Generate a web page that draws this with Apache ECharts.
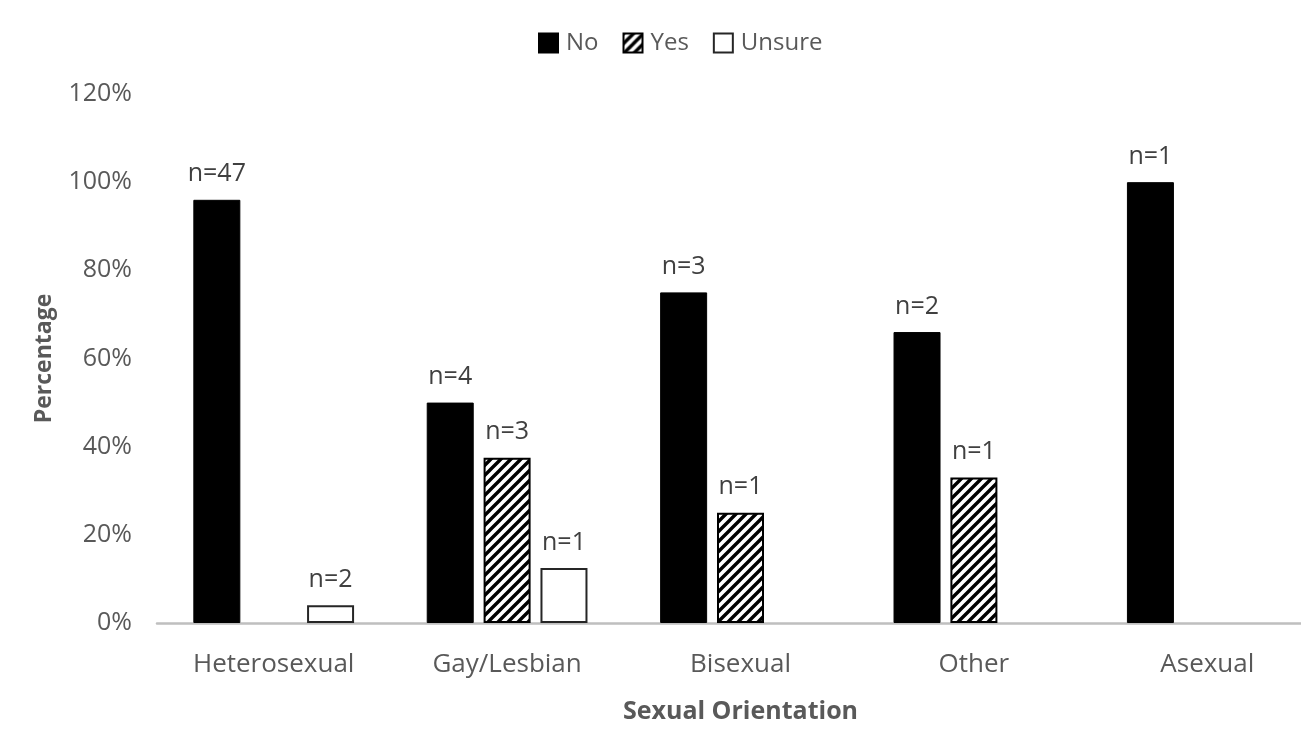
<!DOCTYPE html>
<html><head><meta charset="utf-8">
<script src="https://cdn.jsdelivr.net/npm/echarts@6/dist/echarts.min.js"></script>
<style>html,body{margin:0;padding:0;background:#fff;overflow:hidden;width:1301px;height:729px}#c{width:1324px;height:729px}</style>
</head><body><div id="c"></div>
<script>
const categories = ['Heterosexual', 'Gay/Lesbian', 'Bisexual', 'Other', 'Asexual'];
const noPct = [96, 50, 75, 66, 100];
const yesPct = [0, 37.5, 25, 33, 0];
const unsurePct = [4, 12.5, 0, 0, 0];
const noN = [47, 4, 3, 2, 1];
const yesN = [0, 3, 1, 1, 0];
const unsureN = [2, 1, 0, 0, 0];
const yTicks = [0, 20, 40, 60, 80, 100, 120];

const FONT = 'Open Sans';
function hatch() {
  const s = 10;
  const c = document.createElement('canvas');
  c.width = s; c.height = s;
  const g = c.getContext('2d');
  g.fillStyle = '#fff'; g.fillRect(0, 0, s, s);
  g.strokeStyle = '#000'; g.lineWidth = 3.4;
  g.beginPath();
  g.moveTo(-2, s + 2); g.lineTo(s + 2, -2);
  g.moveTo(-2, 2); g.lineTo(2, -2);
  g.moveTo(s - 2, s + 2); g.lineTo(s + 2, s - 2);
  g.stroke();
  return c;
}
function mk(name, vals, counts, style) {
  return {
    name, type: 'bar', barWidth: 47, barGap: '21%',
    itemStyle: style,
    data: vals.map((v, i) => (v > 0 ? { value: v, n: counts[i] } : { value: '-', n: 0 })),
    label: {
      show: true, position: 'top', distance: 13,
      color: '#404040', fontFamily: FONT, fontSize: 25,
      formatter: p => p.data.n > 0 ? 'n=' + p.data.n : ''
    }
  };
}
const chart = echarts.init(document.getElementById('c'), null, { renderer: 'canvas' });
chart.setOption({
  animation: false,
  backgroundColor: '#fff',
  textStyle: { fontFamily: FONT },
  legend: {
    top: 26, left: 533,
    itemWidth: 19, itemHeight: 19, itemGap: 24,
    textStyle: { color: '#595959', fontSize: 24, fontFamily: FONT, padding: [0, 0, 0, 3] },
    icon: 'rect',
    data: ['No', 'Yes', 'Unsure']
  },
  grid: { left: 157, top: 94, right: 0, height: 537, containLabel: false },
  xAxis: {
    type: 'category', data: categories,
    axisLine: { lineStyle: { color: '#bfbfbf', width: 2.5 } },
    axisTick: { show: false },
    axisLabel: { color: '#595959', fontSize: 26, fontFamily: FONT, margin: 29 },
    name: 'Sexual Orientation', nameLocation: 'middle', nameGap: 76,
    nameTextStyle: { color: '#595959', fontSize: 25, fontWeight: 'bold', fontFamily: FONT }
  },
  yAxis: {
    type: 'value', min: yTicks[0], max: yTicks[yTicks.length - 1], interval: 20,
    splitLine: { show: false },
    axisLine: { show: false }, axisTick: { show: false },
    axisLabel: { color: '#595959', fontSize: 25, fontFamily: FONT, margin: 25, formatter: '{value}%' },
    name: 'Percentage', nameLocation: 'middle', nameGap: 101, nameRotate: 90,
    nameTextStyle: { color: '#595959', fontSize: 23, fontWeight: 'bold', fontFamily: FONT }
  },
  series: [
    mk('No', noPct, noN, { color: '#000', borderColor: '#000', borderWidth: 1 }),
    mk('Yes', yesPct, yesN, { color: { image: hatch(), repeat: 'repeat' }, borderColor: '#000', borderWidth: 2 }),
    mk('Unsure', unsurePct, unsureN, { color: '#fff', borderColor: '#262626', borderWidth: 2 })
  ]
});
</script></body></html>
